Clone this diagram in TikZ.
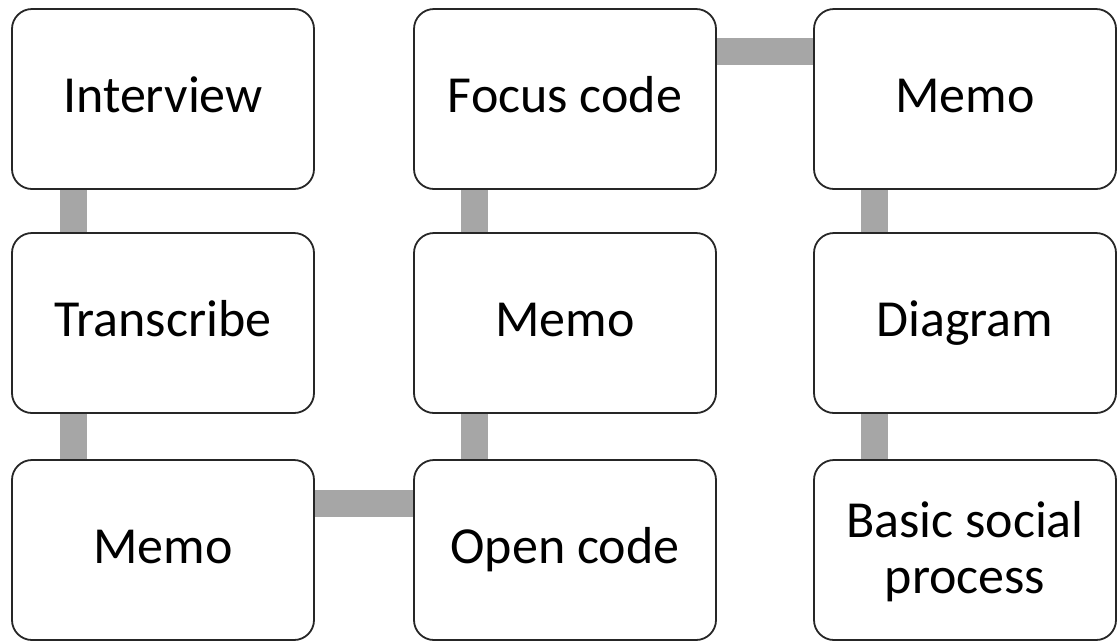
\documentclass[tikz,border=0pt]{standalone}
\usepackage{fontspec}
\setmainfont{Carlito}
\usetikzlibrary{backgrounds}
\begin{document}
\begin{tikzpicture}[x=1pt,y=-1pt,
  stepbox/.style={draw=black!85, line width=1.8pt, rounded corners=20pt,
    minimum width=302pt, minimum height=180pt, inner sep=0pt, align=center,
    text height=36pt, text depth=10pt,
    font=\fontsize{52}{56}\selectfont, fill=white},
  bar/.style={draw=black!35, line width=27pt, line cap=butt}]
\useasboundingbox (0,0) rectangle (1117,641);

% steps, column by column
\node[stepbox] (interview)  at (163,99)  {Interview};
\node[stepbox] (transcribe) at (163,323) {Transcribe};
\node[stepbox] (memoA)      at (163,550) {Memo};
\node[stepbox] (focus)      at (565,99)  {Focus code};
\node[stepbox] (memoB)      at (565,323) {Memo};
\node[stepbox] (open)       at (565,550) {Open code};
\node[stepbox] (memoC)      at (965,99)  {Memo};
\node[stepbox] (diagram)    at (965,323) {Diagram};
\node[stepbox, text height=96pt] (bsp) at (965,550) {Basic social\\process};

% grey links between the steps
\begin{scope}[on background layer]
\draw[bar] ([xshift=62pt]interview.south west) -- ([xshift=62pt]transcribe.north west);
\draw[bar] ([xshift=62pt]transcribe.south west) -- ([xshift=62pt]memoA.north west);
\draw[bar] ([yshift=-44pt]memoA.north east) -- ([yshift=-44pt]open.north west);
\draw[bar] ([xshift=61pt]open.north west) -- ([xshift=61pt]memoB.south west);
\draw[bar] ([xshift=61pt]memoB.north west) -- ([xshift=61pt]focus.south west);
\draw[bar] ([yshift=-43pt]focus.north east) -- ([yshift=-43pt]memoC.north west);
\draw[bar] ([xshift=61pt]memoC.south west) -- ([xshift=61pt]diagram.north west);
\draw[bar] ([xshift=61pt]diagram.south west) -- ([xshift=61pt]bsp.north west);
\end{scope}
\end{tikzpicture}
\end{document}
